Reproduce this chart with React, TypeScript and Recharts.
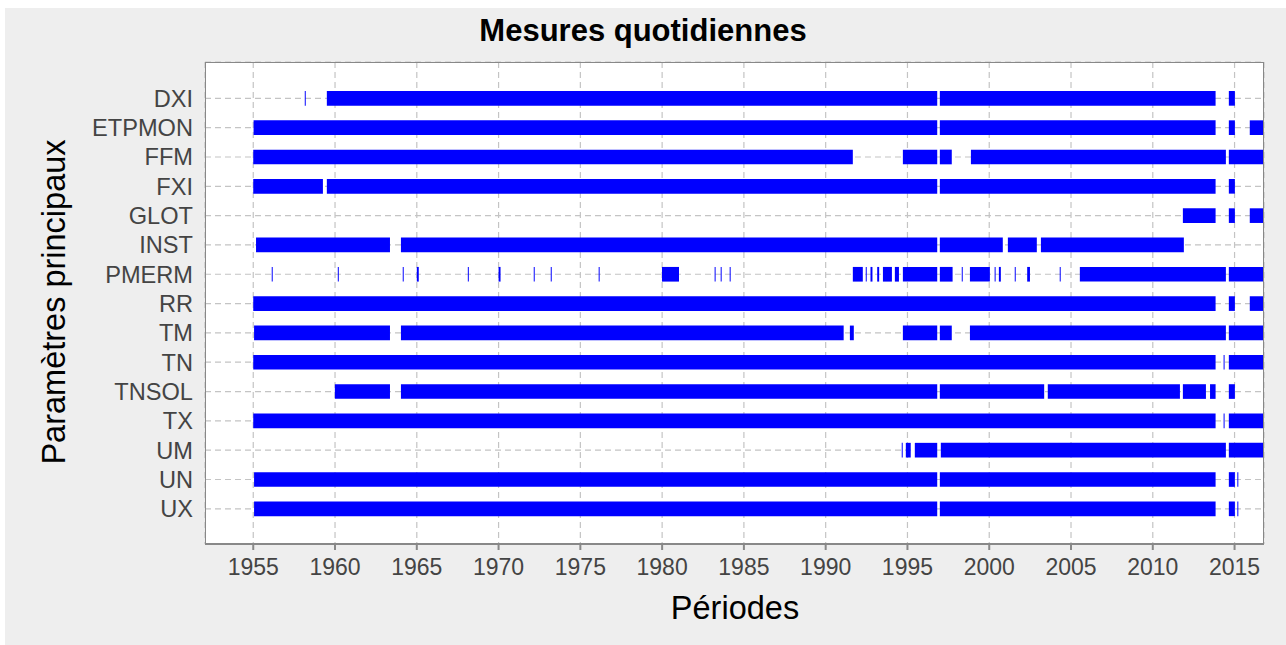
import React from 'react';
import { ComposedChart, XAxis, YAxis, CartesianGrid, ReferenceArea } from 'recharts';

const categories = ['DXI', 'ETPMON', 'FFM', 'FXI', 'GLOT', 'INST', 'PMERM', 'RR', 'TM', 'TN', 'TNSOL', 'TX', 'UM', 'UN', 'UX'];
const xTicks = [1955, 1960, 1965, 1970, 1975, 1980, 1985, 1990, 1995, 2000, 2005, 2010, 2015];
const X_MIN = 1952.05;
const X_MAX = 2016.8;
const END = X_MAX;

const DXI = [[1958.15, 1958.21], [1959.5, 1996.82], [1996.98, 2013.84], [2014.65, 2015.02]];
const ETPMON = [[1955.02, 1996.82], [1996.98, 2013.84], [2014.65, 2015.02], [2015.93, END]];
const FFM = [[1955, 1991.66], [1994.72, 1996.82], [1996.98, 1997.71], [1998.88, 2014.47], [2014.65, END]];
const FXI = [[1955, 1959.26], [1959.5, 1996.82], [1996.98, 2013.84], [2014.65, 2015.02]];
const GLOT = [[2011.84, 2013.84], [2014.65, 2015.02], [2015.93, END]];
const INST = [[1955.17, 1963.36], [1964.03, 1996.82], [1996.98, 2000.83], [2001.14, 2002.91], [2003.16, 2011.9]];
const PMERM = [
  [1956.13, 1956.19], [1960.17, 1960.23], [1964.14, 1964.2], [1965.0, 1965.12], [1968.12, 1968.18],
  [1970.0, 1970.12], [1972.15, 1972.21], [1973.19, 1973.25], [1976.12, 1976.18], [1979.99, 1981.03],
  [1983.21, 1983.27], [1983.58, 1983.64], [1984.13, 1984.19], [1991.66, 1992.27], [1992.45, 1992.51],
  [1992.74, 1992.86], [1993.15, 1993.27], [1993.5, 1994.05], [1994.23, 1994.48], [1994.72, 1996.82],
  [1996.98, 1997.76], [1998.32, 1998.38], [1998.82, 2000.04], [2000.33, 2000.39], [2000.59, 2000.71],
  [2001.56, 2001.62], [2002.32, 2002.49], [2004.31, 2004.37], [2005.54, 2014.47], [2014.65, END],
];
const RR = [[1955, 2013.84], [2014.65, 2015.02], [2015.93, END]];
const TM = [[1955.05, 1963.36], [1964.03, 1991.1], [1991.48, 1991.72], [1994.72, 1996.82], [1996.98, 1997.71], [1998.82, 2014.47], [2014.65, END]];
const TN = [[1955, 2013.84], [2014.33, 2014.39], [2014.65, END]];
const TNSOL = [[1959.99, 1963.36], [1964.03, 1996.82], [1996.98, 2003.36], [2003.58, 2011.66], [2011.84, 2013.25], [2013.5, 2013.84], [2014.65, 2015.02]];
const TX = [[1955, 2013.84], [2014.33, 2014.39], [2014.65, END]];
const UM = [[1994.65, 1994.71], [1994.9, 1995.2], [1995.45, 1996.82], [1997.04, 2014.47], [2014.65, END]];
const UN = [[1955.05, 1996.82], [1996.98, 2013.84], [2014.65, 2015.02], [2015.17, 2015.23]];
const UX = [[1955.05, 1996.82], [1996.98, 2013.84], [2014.65, 2015.02], [2015.17, 2015.23]];

const periods = [DXI, ETPMON, FFM, FXI, GLOT, INST, PMERM, RR, TM, TN, TNSOL, TX, UM, UN, UX];

const Y_MIN = -0.24;
const Y_MAX = 16.2;
const HALF = 0.25;

const rowData = categories.map((name, i) => ({ name, idx: i + 1 }));
const yTicks = categories.map((_, i) => i + 1);

const FONT = '"Liberation Sans", Arial, Helvetica, sans-serif';

export default function App() {
  const segments: React.ReactNode[] = [];
  periods.forEach((list, i) => {
    list.forEach((seg, j) => {
      segments.push(
        <ReferenceArea
          key={`s-${i}-${j}`}
          x1={seg[0]}
          x2={seg[1]}
          y1={i + 1 - HALF}
          y2={i + 1 + HALF}
          fill="#0000ff"
          fillOpacity={1}
          stroke="none"
          strokeWidth={0}
          ifOverflow="hidden"
        />
      );
    });
  });

  return (
    <div style={{ position: 'absolute', left: 0, top: 0, width: 1286, height: 645, background: '#ffffff', fontFamily: FONT }}>
      <div style={{ position: 'absolute', left: 5, top: 8, width: 1281, height: 637, background: '#eeeeee' }} />
      <div
        style={{
          position: 'absolute', left: 0, top: 13, width: 1286, textAlign: 'center',
          fontSize: 31, fontWeight: 'bold', color: '#000', lineHeight: '36px',
        }}
      >
        Mesures quotidiennes
      </div>
      <div
        style={{
          position: 'absolute', left: 535, top: 588, width: 400, textAlign: 'center',
          fontSize: 32.5, color: '#000', lineHeight: '40px',
        }}
      >
        Périodes
      </div>
      <div
        style={{
          position: 'absolute', left: 54 - 200, top: 302 - 20, width: 400, height: 40, textAlign: 'center',
          fontSize: 32.5, color: '#000', lineHeight: '40px', transform: 'rotate(-90deg)',
        }}
      >
        Paramètres principaux
      </div>
      <div style={{ position: 'absolute', left: 0, top: 0 }}>
        <ComposedChart
          width={1286}
          height={645}
          data={rowData}
          margin={{ top: 62, right: 22, left: 85, bottom: 61 }}
        >
          <CartesianGrid
            fill="#ffffff"
            stroke="#c4c4c4"
            strokeWidth={1.2}
            strokeDasharray="6 4"
          />
          <XAxis
            type="number"
            dataKey="idx"
            domain={[X_MIN, X_MAX]}
            ticks={xTicks}
            interval={0}
            allowDataOverflow
            height={40}
            axisLine={{ stroke: '#888888', strokeWidth: 2 }}
            tickLine={{ stroke: '#888888', strokeWidth: 2 }}
            tickSize={6}
            tickMargin={9}
            tick={{ fill: '#444444', fontSize: 23, fontFamily: FONT }}
          />
          <YAxis
            type="number"
            dataKey="idx"
            domain={[Y_MIN, Y_MAX]}
            reversed
            ticks={yTicks}
            interval={0}
            allowDataOverflow
            width={120}
            axisLine={false}
            tickLine={false}
            tickSize={6}
            tickMargin={6}
            tickFormatter={(v: number) => categories[v - 1] ?? ''}
            tick={{ fill: '#444444', fontSize: 23.6, fontFamily: FONT }}
          />
          {segments}
          <ReferenceArea
            x1={X_MIN}
            x2={X_MAX}
            y1={Y_MIN}
            y2={Y_MAX}
            fill="none"
            fillOpacity={0}
            stroke="#888888"
            strokeWidth={2}
            ifOverflow="hidden"
          />
        </ComposedChart>
      </div>
    </div>
  );
}
